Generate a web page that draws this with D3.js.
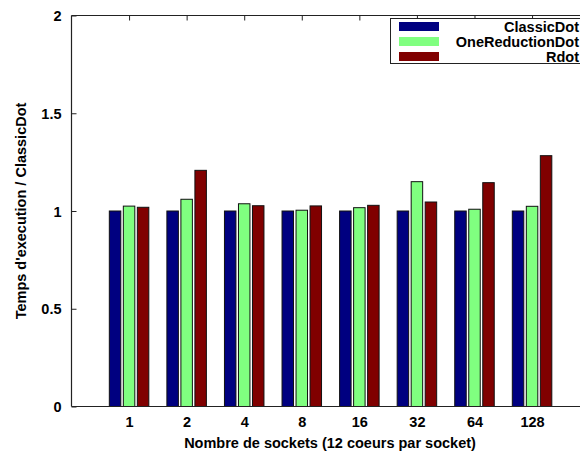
<!DOCTYPE html>
<html>
<head>
<meta charset="utf-8">
<script src="https://cdn.jsdelivr.net/npm/d3@7"></script>
<style>
  html, body { margin: 0; padding: 0; background: #fff; }
  svg { display: block; }
  text { font-family: "Liberation Sans", Arial, Helvetica, sans-serif; font-weight: bold; fill: #000; }
</style>
</head>
<body>
<div id="chart"></div>
<script>
// Socket counts (x categories)
const categories = ["1", "2", "4", "8", "16", "32", "64", "128"];

// Series names, shown in the legend
const seriesNames = ["ClassicDot", "OneReductionDot", "Rdot"];

// Execution time normalised by ClassicDot
const classicDot      = [1.000, 1.000, 1.000, 1.000, 1.000, 1.000, 1.000, 1.000];
const oneReductionDot = [1.025, 1.060, 1.037, 1.004, 1.017, 1.150, 1.009, 1.024];
const rdot            = [1.019, 1.208, 1.027, 1.026, 1.029, 1.046, 1.145, 1.283];

// Y axis ticks
const yTicks = [0, 0.5, 1, 1.5, 2];
const yTickLabels = ["0", "0.5", "1", "1.5", "2"];

const seriesValues = [classicDot, oneReductionDot, rdot];
const colors = ["#000080", "#80ff80", "#800000"];

const W = 580, H = 454;
const plotLeft = 71.5, plotTop = 15.5, plotBottom = 406.5;
const step = 57.57;
const fontSize = 14.5;

const svg = d3.select("#chart").append("svg")
  .attr("width", W).attr("height", H);

// Category index scale: the frame spans from index -1 to index 8
const x = d3.scaleLinear().domain([-1, 8]).range([plotLeft, plotLeft + 9 * step]);
const y = d3.scaleLinear().domain([0, 2]).range([plotBottom, plotTop]);

// Series offsets within one group
const inner = d3.scaleBand().domain(d3.range(seriesNames.length))
  .range([-19.75, 19.75]).paddingInner(0.18);

// Bars
const rows = categories.map((c, i) => seriesValues.map((vals, s) => ({ i, s, v: vals[i] })));
svg.append("g").selectAll("g").data(rows).join("g")
  .selectAll("rect").data(d => d).join("rect")
  .attr("x", d => x(d.i) + inner(d.s))
  .attr("y", d => y(d.v))
  .attr("width", inner.bandwidth())
  .attr("height", d => y(0) - y(d.v))
  .attr("fill", d => colors[d.s])
  .attr("stroke", "#111")
  .attr("stroke-width", 1);

// Frame (left, top, bottom)
const frame = svg.append("g").attr("stroke", "#222").attr("stroke-width", 1.2).attr("fill", "none");
frame.append("line").attr("x1", plotLeft).attr("x2", W).attr("y1", plotTop).attr("y2", plotTop);
frame.append("line").attr("x1", plotLeft).attr("x2", W).attr("y1", plotBottom).attr("y2", plotBottom);
frame.append("line").attr("x1", plotLeft).attr("x2", plotLeft).attr("y1", plotTop).attr("y2", plotBottom);

// Y axis, ticks pointing inward
const yAxis = d3.axisLeft(y).tickValues(yTicks)
  .tickFormat((d, k) => yTickLabels[k])
  .tickSizeInner(-5).tickSizeOuter(0).tickPadding(10);
const gy = svg.append("g").attr("transform", `translate(${plotLeft},0)`).call(yAxis);
gy.select(".domain").remove();
gy.selectAll("line").attr("stroke", "#222");
gy.selectAll("text").attr("font-size", fontSize).attr("dy", "0.36em");

// Bottom category labels
const xAxis = d3.axisBottom(x).tickValues(d3.range(categories.length))
  .tickFormat(i => categories[i]).tickSizeInner(0).tickSizeOuter(0).tickPadding(10.5);
const gx = svg.append("g").attr("transform", `translate(0,${plotBottom})`).call(xAxis);
gx.select(".domain").remove();
gx.selectAll("text").attr("font-size", fontSize);

// Top mirrored ticks
const xTop = d3.axisTop(x).tickValues(d3.range(categories.length))
  .tickFormat("").tickSizeInner(-5).tickSizeOuter(0);
const gt = svg.append("g").attr("transform", `translate(0,${plotTop})`).call(xTop);
gt.select(".domain").remove();
gt.selectAll("line").attr("stroke", "#222");

// Axis titles
svg.append("text")
  .attr("x", 330).attr("y", 448)
  .attr("text-anchor", "middle").attr("font-size", fontSize)
  .text("Nombre de sockets (12 coeurs par socket)");

svg.append("text")
  .attr("transform", `translate(26,${(plotTop + plotBottom) / 2}) rotate(-90)`)
  .attr("text-anchor", "middle").attr("font-size", fontSize)
  .text("Temps d'execution / ClassicDot");

// Legend
const lg = svg.append("g");
lg.append("rect")
  .attr("x", 390.5).attr("y", 18.5).attr("width", 200).attr("height", 45)
  .attr("fill", "#fff").attr("stroke", "#222").attr("stroke-width", 1);
seriesNames.forEach((name, s) => {
  const cy = 26.5 + s * 15;
  lg.append("rect")
    .attr("x", 399).attr("y", cy - 4.5).attr("width", 40).attr("height", 9)
    .attr("fill", colors[s]);
  lg.append("text")
    .attr("x", 579).attr("y", cy + 5)
    .attr("text-anchor", "end").attr("font-size", fontSize)
    .text(name);
});
</script>
</body>
</html>
